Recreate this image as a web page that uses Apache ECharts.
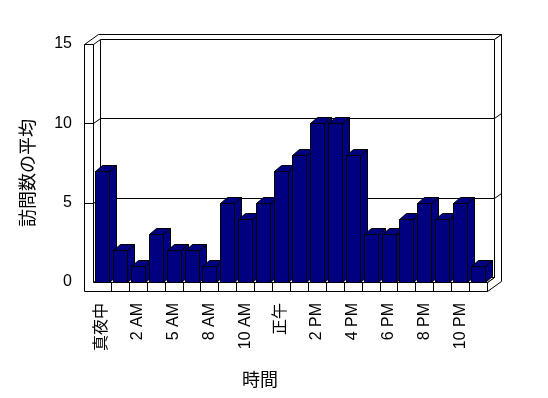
<!DOCTYPE html>
<html><head><meta charset="utf-8">
<script src="https://cdn.jsdelivr.net/npm/echarts@6/dist/echarts.min.js"></script>
<style>html,body{margin:0;padding:0;background:#fff}#c{width:548px;height:398px}</style>
</head><body><div id="c"></div>
<script>
const categories = ['真夜中','1 AM','2 AM','3 AM','5 AM','6 AM','8 AM','9 AM','10 AM','11 AM','正午','1 PM','2 PM','3 PM','4 PM','5 PM','6 PM','7 PM','8 PM','9 PM','10 PM','11 PM'];
const visits = [7,2,1,3,2,2,1,5,4,5,7,8,10,10,8,3,3,4,5,4,5,1];
const yTicks = [0,5,10,15];

const DX = 7, DY = -5;      // wall depth step
const BDX = 7, BDY = -6;    // bar depth
const WALL = 9;             // wall / floor thickness
const FONT = '"Liberation Sans", Arial, "Noto Sans CJK JP", sans-serif';
const NAVY = '#000080';
const r = v => Math.round(v) + 0.5;

function renderFrame(params, api) {
  const cs = params.coordSys;
  const x0 = r(cs.x), x1 = r(cs.x + cs.width);
  const yT = r(api.coord([0, yTicks[yTicks.length - 1]])[1]);
  const yB = r(api.coord([0, 0])[1]);
  const ws = {fill: '#fff', stroke: '#000', lineWidth: 1};
  const ls = {fill: 'none', stroke: '#000', lineWidth: 1};
  const ch = [];
  // back wall front face
  ch.push({type: 'polygon', shape: {points: [[x0 + DX, yT + DY], [x1 + DX, yT + DY], [x1 + DX, yB + DY], [x0 + DX, yB + DY]]}, style: ws});
  // top faces of left wall + back wall
  ch.push({type: 'polygon', shape: {points: [[x0 - WALL, yT], [x0, yT], [x0 + DX, yT + DY], [x1 + DX, yT + DY], [x1 + 2 * DX, yT + 2 * DY], [x0 - WALL + 2 * DX, yT + 2 * DY]]}, style: ws});
  // right face of back wall
  ch.push({type: 'polygon', shape: {points: [[x1 + DX, yT + DY], [x1 + 2 * DX, yT + 2 * DY], [x1 + 2 * DX, yB + WALL + 2 * DY], [x1, yB + WALL], [x1, yB], [x1 + DX, yB + DY]]}, style: ws});
  // floor top face
  ch.push({type: 'polygon', shape: {points: [[x0, yB], [x1, yB], [x1 + DX, yB + DY], [x0 + DX, yB + DY]]}, style: ws});
  // left wall + floor front faces
  ch.push({type: 'polygon', shape: {points: [[x0 - WALL, yT], [x0, yT], [x0, yB], [x1, yB], [x1, yB + WALL], [x0 - WALL, yB + WALL]]}, style: ws});
  // gridlines and ticks
  yTicks.forEach(v => {
    if (v === 0 || v === yTicks[yTicks.length - 1]) return;
    const y = r(api.coord([0, v])[1]);
    ch.push({type: 'polyline', shape: {points: [[x0 - WALL, y], [x0, y], [x0 + DX, y + DY], [x1 + DX, y + DY], [x1 + 2 * DX, y + 2 * DY]]}, style: ls});
  });
  // floor dividers
  const n = categories.length;
  for (let k = 1; k < n; k++) {
    const x = r(cs.x + k * cs.width / n);
    ch.push({type: 'line', shape: {x1: x, y1: yB, x2: x, y2: yB + WALL}, style: ls});
  }
  return {type: 'group', children: ch};
}

function renderBar(params, api) {
  const i = api.value(0), v = api.value(1);
  const top = api.coord([i, v]), base = api.coord([i, 0]);
  const bw = api.size([1, 0])[0];
  const w = Math.round(bw * 0.78);
  const xl = Math.round(top[0] - w / 2) + 0.5, xr = xl + w;
  const yt = r(top[1]), yb = r(base[1]);
  const st = {fill: NAVY, stroke: '#000', lineWidth: 1};
  return {type: 'group', children: [
    {type: 'polygon', shape: {points: [[xr, yt], [xr + BDX, yt + BDY], [xr + BDX, yb + BDY], [xr, yb]]}, style: st},
    {type: 'polygon', shape: {points: [[xl, yt], [xl + BDX, yt + BDY], [xr + BDX, yt + BDY], [xr, yt]]}, style: st},
    {type: 'rect', shape: {x: xl, y: yt, width: w, height: yb - yt}, style: st}
  ]};
}

const chart = echarts.init(document.getElementById('c'), null, {renderer: 'canvas'});
chart.setOption({
  animation: false,
  backgroundColor: '#fff',
  grid: {left: 93, right: 61, top: 44, bottom: 116},
  xAxis: {
    type: 'category', data: categories, boundaryGap: true,
    axisLine: {show: false}, axisTick: {show: false}, splitLine: {show: false},
    axisLabel: {interval: 1, rotate: 90, margin: 21, fontSize: 16, color: '#000', fontFamily: FONT},
    name: '時間', nameLocation: 'middle', nameGap: 90,
    nameTextStyle: {fontSize: 18, color: '#000', fontFamily: FONT, padding: [0, 60, 0, 0]}
  },
  yAxis: {
    type: 'value', min: 0, max: 15, interval: 5, offset: 9,
    axisLine: {show: false}, axisTick: {show: false}, splitLine: {show: false},
    axisLabel: {margin: 12, fontSize: 16, color: '#000', fontFamily: FONT},
    name: '訪問数の平均', nameLocation: 'middle', nameRotate: 90, nameGap: 46,
    nameTextStyle: {fontSize: 18, color: '#000', fontFamily: FONT, padding: [0, 20, 0, 0]}
  },
  series: [
    {type: 'custom', name: 'frame', renderItem: renderFrame, data: [[0, 0]], clip: false, silent: true, z: 1},
    {type: 'custom', name: '訪問数の平均', renderItem: renderBar,
     data: visits.map((v, i) => [i, v]), encode: {x: 0, y: 1}, clip: false, silent: true, z: 2}
  ]
});
</script>
</body></html>
